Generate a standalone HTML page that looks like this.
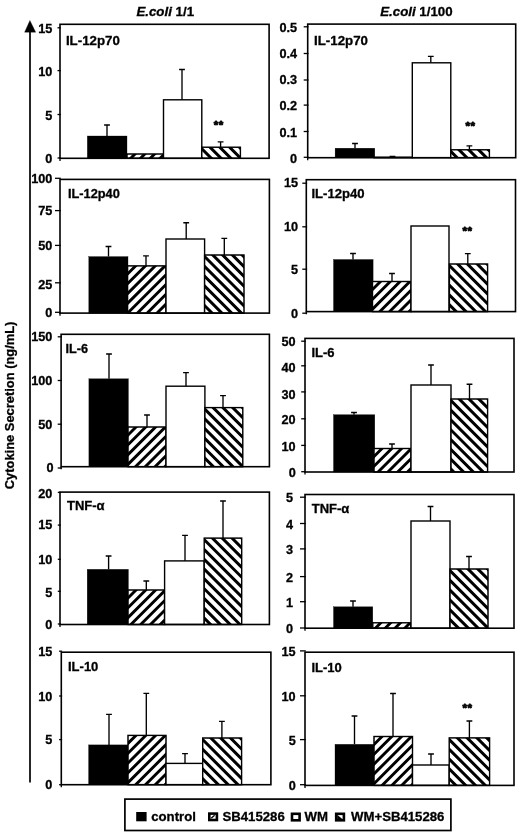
<!DOCTYPE html>
<html><head><meta charset="utf-8"><title>Cytokine secretion</title>
<style>
html,body{margin:0;padding:0;background:#fff;}
body{width:520px;height:837px;overflow:hidden;font-family:"Liberation Sans", sans-serif;}
svg{display:block;filter:grayscale(1);}
</style></head><body>
<svg width="520" height="837" viewBox="0 0 520 837">
<rect width="520" height="837" fill="#fff"/>
<g font-family='"Liberation Sans", sans-serif' font-weight="bold" fill="#000" stroke="#000" stroke-width="0.3">
<text x="136.4" y="15.7" font-size="13.3"><tspan font-style="italic">E.coli</tspan> 1/1</text>
<text x="380.2" y="15.7" font-size="13.3"><tspan font-style="italic">E.coli</tspan> 1/100</text>
<line x1="30.0" y1="30" x2="30.0" y2="782.5" stroke="#000" stroke-width="1.7"/>
<polygon points="29.9,20.4 24.6,32.2 35.7,32.2" fill="#000"/>
<text transform="translate(14.0,405.4) rotate(-90)" text-anchor="middle" font-size="12.9">Cytokine Secretion (ng/mL)</text>
<path d="M107 136V125M104.10 125H109.90" stroke="#000" stroke-width="1.35" fill="none"/>
<rect x="87.30" y="136.00" width="39.70" height="22.30" fill="#000"/>
<clipPath id="c1"><rect x="127" y="154" width="36.50" height="4.30"/></clipPath>
<rect x="127" y="154" width="36.50" height="4.30" fill="#fff"/>
<path clip-path="url(#c1)" d="M125.00 154.20L165.50 113.70M125.00 164.00L165.50 123.50M125.00 173.80L165.50 133.30M125.00 183.60L165.50 143.10M125.00 193.40L165.50 152.90" stroke="#000" stroke-width="2.9" fill="none"/>
<rect x="127" y="154" width="36.50" height="4.30" fill="none" stroke="#000" stroke-width="1.4"/>
<path d="M182 99.8V69.5M179.10 69.5H184.90" stroke="#000" stroke-width="1.35" fill="none"/>
<rect x="163.5" y="99.8" width="38.30" height="58.50" fill="#fff" stroke="#000" stroke-width="1.4"/>
<path d="M220.6 147.2V141.8M217.70 141.8H223.50" stroke="#000" stroke-width="1.35" fill="none"/>
<clipPath id="c2"><rect x="201.8" y="147.2" width="38.60" height="11.10"/></clipPath>
<rect x="201.8" y="147.2" width="38.60" height="11.10" fill="#fff"/>
<path clip-path="url(#c2)" d="M199.80 107.60L242.40 150.20M199.80 117.40L242.40 160.00M199.80 127.20L242.40 169.80M199.80 137.00L242.40 179.60M199.80 146.80L242.40 189.40M199.80 156.60L242.40 199.20" stroke="#000" stroke-width="3.0" fill="none"/>
<rect x="201.8" y="147.2" width="38.60" height="11.10" fill="none" stroke="#000" stroke-width="1.4"/>
<rect x="60.0" y="24.3" width="209.10" height="134.00" fill="none" stroke="#000" stroke-width="1.6"/>
<line x1="60.0" y1="158.3" x2="60.0" y2="160.90" stroke="#000" stroke-width="1.3"/>
<line x1="57.50" y1="27.8" x2="60.80" y2="27.8" stroke="#000" stroke-width="1.3"/>
<text x="52.4" y="32.90" text-anchor="end" font-size="12.7">15</text>
<line x1="57.50" y1="70.6" x2="60.80" y2="70.6" stroke="#000" stroke-width="1.3"/>
<text x="52.4" y="75.70" text-anchor="end" font-size="12.7">10</text>
<line x1="57.50" y1="114.5" x2="60.80" y2="114.5" stroke="#000" stroke-width="1.3"/>
<text x="52.4" y="119.50" text-anchor="end" font-size="12.7">5</text>
<line x1="57.50" y1="158.0" x2="60.80" y2="158.0" stroke="#000" stroke-width="1.3"/>
<text x="52.4" y="162.70" text-anchor="end" font-size="12.7">0</text>
<text x="65.90" y="44.6" font-size="13.3">IL-12p70</text>
<text x="218.80" y="128.60" text-anchor="middle" font-size="11.6" letter-spacing="0.6" stroke="#000" stroke-width="0.8" stroke-linejoin="round">**</text>
<path d="M108.5 256.6V246.5M105.60 246.5H111.40" stroke="#000" stroke-width="1.35" fill="none"/>
<rect x="88.80" y="256.60" width="39.20" height="56.50" fill="#000"/>
<path d="M146 265.9V255.8M143.10 255.8H148.90" stroke="#000" stroke-width="1.35" fill="none"/>
<clipPath id="c3"><rect x="127.6" y="265.9" width="38.40" height="47.20"/></clipPath>
<rect x="127.6" y="265.9" width="38.40" height="47.20" fill="#fff"/>
<path clip-path="url(#c3)" d="M125.60 266.10L168.00 223.70M125.60 275.90L168.00 233.50M125.60 285.70L168.00 243.30M125.60 295.50L168.00 253.10M125.60 305.30L168.00 262.90M125.60 315.10L168.00 272.70M125.60 324.90L168.00 282.50M125.60 334.70L168.00 292.30M125.60 344.50L168.00 302.10M125.60 354.30L168.00 311.90" stroke="#000" stroke-width="2.9" fill="none"/>
<rect x="127.6" y="265.9" width="38.40" height="47.20" fill="none" stroke="#000" stroke-width="1.4"/>
<path d="M186.2 239.0V222.7M183.30 222.7H189.10" stroke="#000" stroke-width="1.35" fill="none"/>
<rect x="166.0" y="239.0" width="38.60" height="74.10" fill="#fff" stroke="#000" stroke-width="1.4"/>
<path d="M224.3 255V238.4M221.40 238.4H227.20" stroke="#000" stroke-width="1.35" fill="none"/>
<clipPath id="c4"><rect x="204.6" y="255" width="39.40" height="58.10"/></clipPath>
<rect x="204.6" y="255" width="39.40" height="58.10" fill="#fff"/>
<path clip-path="url(#c4)" d="M202.60 215.40L246.00 258.80M202.60 225.20L246.00 268.60M202.60 235.00L246.00 278.40M202.60 244.80L246.00 288.20M202.60 254.60L246.00 298.00M202.60 264.40L246.00 307.80M202.60 274.20L246.00 317.60M202.60 284.00L246.00 327.40M202.60 293.80L246.00 337.20M202.60 303.60L246.00 347.00M202.60 313.40L246.00 356.80" stroke="#000" stroke-width="3.0" fill="none"/>
<rect x="204.6" y="255" width="39.40" height="58.10" fill="none" stroke="#000" stroke-width="1.4"/>
<rect x="60.0" y="179.4" width="209.40" height="133.70" fill="none" stroke="#000" stroke-width="1.6"/>
<line x1="60.0" y1="313.1" x2="60.0" y2="315.70" stroke="#000" stroke-width="1.3"/>
<line x1="55.00" y1="178.3" x2="60.80" y2="178.3" stroke="#000" stroke-width="1.3"/>
<text x="52.4" y="182.80" text-anchor="end" font-size="12.7">100</text>
<line x1="55.00" y1="210.6" x2="60.80" y2="210.6" stroke="#000" stroke-width="1.3"/>
<text x="52.4" y="215.10" text-anchor="end" font-size="12.7">75</text>
<line x1="55.00" y1="245.4" x2="60.80" y2="245.4" stroke="#000" stroke-width="1.3"/>
<text x="52.4" y="249.90" text-anchor="end" font-size="12.7">50</text>
<line x1="55.00" y1="282.8" x2="60.80" y2="282.8" stroke="#000" stroke-width="1.3"/>
<text x="52.4" y="288.90" text-anchor="end" font-size="12.7">25</text>
<line x1="55.00" y1="312.3" x2="60.80" y2="312.3" stroke="#000" stroke-width="1.3"/>
<text x="52.4" y="316.80" text-anchor="end" font-size="12.7">0</text>
<text x="67.90" y="198.4" font-size="12.8">IL-12p40</text>
<path d="M109 378.8V354M106.10 354H111.90" stroke="#000" stroke-width="1.35" fill="none"/>
<rect x="88.90" y="378.80" width="39.50" height="87.90" fill="#000"/>
<path d="M147 427V415M144.10 415H149.90" stroke="#000" stroke-width="1.35" fill="none"/>
<clipPath id="c5"><rect x="128" y="427" width="38.00" height="39.70"/></clipPath>
<rect x="128" y="427" width="38.00" height="39.70" fill="#fff"/>
<path clip-path="url(#c5)" d="M126.00 427.20L168.00 385.20M126.00 437.00L168.00 395.00M126.00 446.80L168.00 404.80M126.00 456.60L168.00 414.60M126.00 466.40L168.00 424.40M126.00 476.20L168.00 434.20M126.00 486.00L168.00 444.00M126.00 495.80L168.00 453.80M126.00 505.60L168.00 463.60" stroke="#000" stroke-width="2.9" fill="none"/>
<rect x="128" y="427" width="38.00" height="39.70" fill="none" stroke="#000" stroke-width="1.4"/>
<path d="M186 386.2V372.6M183.10 372.6H188.90" stroke="#000" stroke-width="1.35" fill="none"/>
<rect x="166" y="386.2" width="38.90" height="80.50" fill="#fff" stroke="#000" stroke-width="1.4"/>
<path d="M223 407.6V395.6M220.10 395.6H225.90" stroke="#000" stroke-width="1.35" fill="none"/>
<clipPath id="c6"><rect x="204.9" y="407.6" width="37.90" height="59.10"/></clipPath>
<rect x="204.9" y="407.6" width="37.90" height="59.10" fill="#fff"/>
<path clip-path="url(#c6)" d="M202.90 368.00L244.80 409.90M202.90 377.80L244.80 419.70M202.90 387.60L244.80 429.50M202.90 397.40L244.80 439.30M202.90 407.20L244.80 449.10M202.90 417.00L244.80 458.90M202.90 426.80L244.80 468.70M202.90 436.60L244.80 478.50M202.90 446.40L244.80 488.30M202.90 456.20L244.80 498.10M202.90 466.00L244.80 507.90" stroke="#000" stroke-width="3.0" fill="none"/>
<rect x="204.9" y="407.6" width="37.90" height="59.10" fill="none" stroke="#000" stroke-width="1.4"/>
<rect x="61.1" y="334.3" width="208.30" height="132.40" fill="none" stroke="#000" stroke-width="1.6"/>
<line x1="61.1" y1="466.7" x2="61.1" y2="469.30" stroke="#000" stroke-width="1.3"/>
<line x1="57.70" y1="336.8" x2="61.90" y2="336.8" stroke="#000" stroke-width="1.3"/>
<text x="52.4" y="341.30" text-anchor="end" font-size="12.7">150</text>
<line x1="57.70" y1="380.5" x2="61.90" y2="380.5" stroke="#000" stroke-width="1.3"/>
<text x="52.4" y="385.00" text-anchor="end" font-size="12.7">100</text>
<line x1="57.70" y1="424.2" x2="61.90" y2="424.2" stroke="#000" stroke-width="1.3"/>
<text x="52.4" y="428.70" text-anchor="end" font-size="12.7">50</text>
<line x1="57.70" y1="468" x2="61.90" y2="468" stroke="#000" stroke-width="1.3"/>
<text x="53.6" y="472.40" text-anchor="end" font-size="12.7">0</text>
<text x="65.40" y="353.2" font-size="12.7">IL-6</text>
<path d="M108.6 569.3V556M105.70 556H111.50" stroke="#000" stroke-width="1.35" fill="none"/>
<rect x="87.20" y="569.30" width="41.20" height="55.20" fill="#000"/>
<path d="M146.3 590V581M143.40 581H149.20" stroke="#000" stroke-width="1.35" fill="none"/>
<clipPath id="c7"><rect x="128" y="590" width="36.60" height="34.50"/></clipPath>
<rect x="128" y="590" width="36.60" height="34.50" fill="#fff"/>
<path clip-path="url(#c7)" d="M126.00 590.20L166.60 549.60M126.00 600.00L166.60 559.40M126.00 609.80L166.60 569.20M126.00 619.60L166.60 579.00M126.00 629.40L166.60 588.80M126.00 639.20L166.60 598.60M126.00 649.00L166.60 608.40M126.00 658.80L166.60 618.20" stroke="#000" stroke-width="2.9" fill="none"/>
<rect x="128" y="590" width="36.60" height="34.50" fill="none" stroke="#000" stroke-width="1.4"/>
<path d="M185 560.9V535.4M182.10 535.4H187.90" stroke="#000" stroke-width="1.35" fill="none"/>
<rect x="164.6" y="560.9" width="39.60" height="63.60" fill="#fff" stroke="#000" stroke-width="1.4"/>
<path d="M223 538.1V501M220.10 501H225.90" stroke="#000" stroke-width="1.35" fill="none"/>
<clipPath id="c8"><rect x="204.2" y="538.1" width="37.50" height="86.40"/></clipPath>
<rect x="204.2" y="538.1" width="37.50" height="86.40" fill="#fff"/>
<path clip-path="url(#c8)" d="M202.20 498.50L243.70 540.00M202.20 508.30L243.70 549.80M202.20 518.10L243.70 559.60M202.20 527.90L243.70 569.40M202.20 537.70L243.70 579.20M202.20 547.50L243.70 589.00M202.20 557.30L243.70 598.80M202.20 567.10L243.70 608.60M202.20 576.90L243.70 618.40M202.20 586.70L243.70 628.20M202.20 596.50L243.70 638.00M202.20 606.30L243.70 647.80M202.20 616.10L243.70 657.60M202.20 625.90L243.70 667.40" stroke="#000" stroke-width="3.0" fill="none"/>
<rect x="204.2" y="538.1" width="37.50" height="86.40" fill="none" stroke="#000" stroke-width="1.4"/>
<rect x="60.0" y="492.1" width="209.40" height="132.40" fill="none" stroke="#000" stroke-width="1.6"/>
<line x1="60.0" y1="624.5" x2="60.0" y2="627.10" stroke="#000" stroke-width="1.3"/>
<line x1="57.80" y1="492.4" x2="60.80" y2="492.4" stroke="#000" stroke-width="1.3"/>
<text x="52.4" y="497.50" text-anchor="end" font-size="12.7">20</text>
<line x1="57.80" y1="525.1" x2="60.80" y2="525.1" stroke="#000" stroke-width="1.3"/>
<text x="52.4" y="529.10" text-anchor="end" font-size="12.7">15</text>
<line x1="57.80" y1="559.3" x2="60.80" y2="559.3" stroke="#000" stroke-width="1.3"/>
<text x="52.4" y="563.50" text-anchor="end" font-size="12.7">10</text>
<line x1="57.80" y1="591.3" x2="60.80" y2="591.3" stroke="#000" stroke-width="1.3"/>
<text x="52.4" y="597.10" text-anchor="end" font-size="12.7">5</text>
<line x1="57.80" y1="624.0" x2="60.80" y2="624.0" stroke="#000" stroke-width="1.3"/>
<text x="52.4" y="628.70" text-anchor="end" font-size="12.7">0</text>
<text x="67.00" y="509.7" font-size="13.0">TNF-α</text>
<path d="M109 744.9V714.4M106.10 714.4H111.90" stroke="#000" stroke-width="1.35" fill="none"/>
<rect x="88.60" y="744.90" width="39.80" height="39.80" fill="#000"/>
<path d="M146.3 735.4V693.3M143.40 693.3H149.20" stroke="#000" stroke-width="1.35" fill="none"/>
<clipPath id="c9"><rect x="128" y="735.4" width="38.00" height="49.30"/></clipPath>
<rect x="128" y="735.4" width="38.00" height="49.30" fill="#fff"/>
<path clip-path="url(#c9)" d="M126.00 735.60L168.00 693.60M126.00 745.40L168.00 703.40M126.00 755.20L168.00 713.20M126.00 765.00L168.00 723.00M126.00 774.80L168.00 732.80M126.00 784.60L168.00 742.60M126.00 794.40L168.00 752.40M126.00 804.20L168.00 762.20M126.00 814.00L168.00 772.00M126.00 823.80L168.00 781.80" stroke="#000" stroke-width="2.9" fill="none"/>
<rect x="128" y="735.4" width="38.00" height="49.30" fill="none" stroke="#000" stroke-width="1.4"/>
<path d="M185 763.4V753.6M182.10 753.6H187.90" stroke="#000" stroke-width="1.35" fill="none"/>
<rect x="166" y="763.4" width="36.70" height="21.30" fill="#fff" stroke="#000" stroke-width="1.4"/>
<path d="M221.9 738V721.3M219.00 721.3H224.80" stroke="#000" stroke-width="1.35" fill="none"/>
<clipPath id="c10"><rect x="202.7" y="738" width="38.90" height="46.70"/></clipPath>
<rect x="202.7" y="738" width="38.90" height="46.70" fill="#fff"/>
<path clip-path="url(#c10)" d="M200.70 698.40L243.60 741.30M200.70 708.20L243.60 751.10M200.70 718.00L243.60 760.90M200.70 727.80L243.60 770.70M200.70 737.60L243.60 780.50M200.70 747.40L243.60 790.30M200.70 757.20L243.60 800.10M200.70 767.00L243.60 809.90M200.70 776.80L243.60 819.70M200.70 786.60L243.60 829.50" stroke="#000" stroke-width="3.0" fill="none"/>
<rect x="202.7" y="738" width="38.90" height="46.70" fill="none" stroke="#000" stroke-width="1.4"/>
<rect x="61.3" y="652.2" width="209.60" height="132.50" fill="none" stroke="#000" stroke-width="1.6"/>
<line x1="61.3" y1="784.7" x2="61.3" y2="787.30" stroke="#000" stroke-width="1.3"/>
<line x1="59.10" y1="651.2" x2="62.10" y2="651.2" stroke="#000" stroke-width="1.3"/>
<text x="52.4" y="655.70" text-anchor="end" font-size="12.7">15</text>
<line x1="59.10" y1="696" x2="62.10" y2="696" stroke="#000" stroke-width="1.3"/>
<text x="52.4" y="700.50" text-anchor="end" font-size="12.7">10</text>
<line x1="59.10" y1="739.6" x2="62.10" y2="739.6" stroke="#000" stroke-width="1.3"/>
<text x="52.4" y="744.10" text-anchor="end" font-size="12.7">5</text>
<line x1="59.10" y1="784.7" x2="62.10" y2="784.7" stroke="#000" stroke-width="1.3"/>
<text x="52.4" y="789.20" text-anchor="end" font-size="12.7">0</text>
<text x="68.00" y="671.3" font-size="13.0">IL-10</text>
<path d="M355 148.2V143.5M352.10 143.5H357.90" stroke="#000" stroke-width="1.35" fill="none"/>
<rect x="335.10" y="148.20" width="39.70" height="9.50" fill="#000"/>
<path d="M392.5 157.2V156.5M389.60 156.5H395.40" stroke="#000" stroke-width="1.35" fill="none"/>
<clipPath id="c11"><rect x="374" y="157.2" width="38.50" height="0.50"/></clipPath>
<rect x="374" y="157.2" width="38.50" height="0.50" fill="#fff"/>
<path clip-path="url(#c11)" d="M372.00 157.40L414.50 114.90M372.00 167.20L414.50 124.70M372.00 177.00L414.50 134.50M372.00 186.80L414.50 144.30M372.00 196.60L414.50 154.10" stroke="#000" stroke-width="2.9" fill="none"/>
<rect x="374" y="157.2" width="38.50" height="0.50" fill="none" stroke="#000" stroke-width="1.4"/>
<path d="M430.8 62.8V56.3M427.90 56.3H433.70" stroke="#000" stroke-width="1.35" fill="none"/>
<rect x="412.3" y="62.8" width="38.50" height="94.90" fill="#fff" stroke="#000" stroke-width="1.4"/>
<path d="M469.4 149.8V145.8M466.50 145.8H472.30" stroke="#000" stroke-width="1.35" fill="none"/>
<clipPath id="c12"><rect x="450.8" y="149.8" width="38.60" height="7.90"/></clipPath>
<rect x="450.8" y="149.8" width="38.60" height="7.90" fill="#fff"/>
<path clip-path="url(#c12)" d="M448.80 110.20L491.40 152.80M448.80 120.00L491.40 162.60M448.80 129.80L491.40 172.40M448.80 139.60L491.40 182.20M448.80 149.40L491.40 192.00M448.80 159.20L491.40 201.80" stroke="#000" stroke-width="3.0" fill="none"/>
<rect x="450.8" y="149.8" width="38.60" height="7.90" fill="none" stroke="#000" stroke-width="1.4"/>
<rect x="307.7" y="24.1" width="208.00" height="133.60" fill="none" stroke="#000" stroke-width="1.6"/>
<line x1="307.7" y1="157.7" x2="307.7" y2="160.30" stroke="#000" stroke-width="1.3"/>
<line x1="303.70" y1="26.8" x2="308.50" y2="26.8" stroke="#000" stroke-width="1.3"/>
<text x="297.1" y="31.60" text-anchor="end" font-size="12.7">0.5</text>
<line x1="303.70" y1="53.5" x2="308.50" y2="53.5" stroke="#000" stroke-width="1.3"/>
<text x="297.1" y="58.10" text-anchor="end" font-size="12.7">0.4</text>
<line x1="303.70" y1="80" x2="308.50" y2="80" stroke="#000" stroke-width="1.3"/>
<text x="297.1" y="84.30" text-anchor="end" font-size="12.7">0.3</text>
<line x1="303.70" y1="105.1" x2="308.50" y2="105.1" stroke="#000" stroke-width="1.3"/>
<text x="297.1" y="110.00" text-anchor="end" font-size="12.7">0.2</text>
<line x1="303.70" y1="131.5" x2="308.50" y2="131.5" stroke="#000" stroke-width="1.3"/>
<text x="297.1" y="136.50" text-anchor="end" font-size="12.7">0.1</text>
<line x1="303.70" y1="157.3" x2="308.50" y2="157.3" stroke="#000" stroke-width="1.3"/>
<text x="297.1" y="162.90" text-anchor="end" font-size="12.7">0</text>
<text x="314.00" y="44.6" font-size="13.3">IL-12p70</text>
<text x="470.60" y="130.30" text-anchor="middle" font-size="11.6" letter-spacing="0.6" stroke="#000" stroke-width="0.8" stroke-linejoin="round">**</text>
<path d="M353 259.5V253.5M350.10 253.5H355.90" stroke="#000" stroke-width="1.35" fill="none"/>
<rect x="333.50" y="259.50" width="39.60" height="52.10" fill="#000"/>
<path d="M392 281.5V273.5M389.10 273.5H394.90" stroke="#000" stroke-width="1.35" fill="none"/>
<clipPath id="c13"><rect x="372.5" y="281.5" width="38.50" height="30.10"/></clipPath>
<rect x="372.5" y="281.5" width="38.50" height="30.10" fill="#fff"/>
<path clip-path="url(#c13)" d="M370.50 281.70L413.00 239.20M370.50 291.50L413.00 249.00M370.50 301.30L413.00 258.80M370.50 311.10L413.00 268.60M370.50 320.90L413.00 278.40M370.50 330.70L413.00 288.20M370.50 340.50L413.00 298.00M370.50 350.30L413.00 307.80" stroke="#000" stroke-width="2.9" fill="none"/>
<rect x="372.5" y="281.5" width="38.50" height="30.10" fill="none" stroke="#000" stroke-width="1.4"/>
<rect x="411" y="226" width="38.00" height="85.60" fill="#fff" stroke="#000" stroke-width="1.4"/>
<path d="M467.8 264V253.6M464.90 253.6H470.70" stroke="#000" stroke-width="1.35" fill="none"/>
<clipPath id="c14"><rect x="449.4" y="264" width="38.20" height="47.60"/></clipPath>
<rect x="449.4" y="264" width="38.20" height="47.60" fill="#fff"/>
<path clip-path="url(#c14)" d="M447.40 224.40L489.60 266.60M447.40 234.20L489.60 276.40M447.40 244.00L489.60 286.20M447.40 253.80L489.60 296.00M447.40 263.60L489.60 305.80M447.40 273.40L489.60 315.60M447.40 283.20L489.60 325.40M447.40 293.00L489.60 335.20M447.40 302.80L489.60 345.00M447.40 312.60L489.60 354.80" stroke="#000" stroke-width="3.0" fill="none"/>
<rect x="449.4" y="264" width="38.20" height="47.60" fill="none" stroke="#000" stroke-width="1.4"/>
<rect x="306.3" y="179.7" width="209.20" height="131.90" fill="none" stroke="#000" stroke-width="1.6"/>
<line x1="306.3" y1="311.6" x2="306.3" y2="314.20" stroke="#000" stroke-width="1.3"/>
<line x1="302.30" y1="183.2" x2="307.10" y2="183.2" stroke="#000" stroke-width="1.3"/>
<text x="298.1" y="187.40" text-anchor="end" font-size="12.7">15</text>
<line x1="302.30" y1="226.8" x2="307.10" y2="226.8" stroke="#000" stroke-width="1.3"/>
<text x="298.1" y="230.80" text-anchor="end" font-size="12.7">10</text>
<line x1="302.30" y1="269.2" x2="307.10" y2="269.2" stroke="#000" stroke-width="1.3"/>
<text x="298.1" y="274.40" text-anchor="end" font-size="12.7">5</text>
<line x1="302.30" y1="313.2" x2="307.10" y2="313.2" stroke="#000" stroke-width="1.3"/>
<text x="298.1" y="317.70" text-anchor="end" font-size="12.7">0</text>
<text x="311.40" y="198.2" font-size="13.1">IL-12p40</text>
<text x="467.50" y="234.80" text-anchor="middle" font-size="11.6" letter-spacing="0.6" stroke="#000" stroke-width="0.8" stroke-linejoin="round">**</text>
<path d="M354 414.7V412.5M351.10 412.5H356.90" stroke="#000" stroke-width="1.35" fill="none"/>
<rect x="333.50" y="414.70" width="41.30" height="57.30" fill="#000"/>
<path d="M392 448.5V444M389.10 444H394.90" stroke="#000" stroke-width="1.35" fill="none"/>
<clipPath id="c15"><rect x="374" y="448.5" width="37.00" height="23.50"/></clipPath>
<rect x="374" y="448.5" width="37.00" height="23.50" fill="#fff"/>
<path clip-path="url(#c15)" d="M372.00 448.70L413.00 407.70M372.00 458.50L413.00 417.50M372.00 468.30L413.00 427.30M372.00 478.10L413.00 437.10M372.00 487.90L413.00 446.90M372.00 497.70L413.00 456.70M372.00 507.50L413.00 466.50" stroke="#000" stroke-width="2.9" fill="none"/>
<rect x="374" y="448.5" width="37.00" height="23.50" fill="none" stroke="#000" stroke-width="1.4"/>
<path d="M431 385V365M428.10 365H433.90" stroke="#000" stroke-width="1.35" fill="none"/>
<rect x="411" y="385" width="40.00" height="87.00" fill="#fff" stroke="#000" stroke-width="1.4"/>
<path d="M469.5 399V384.2M466.60 384.2H472.40" stroke="#000" stroke-width="1.35" fill="none"/>
<clipPath id="c16"><rect x="451" y="399" width="36.60" height="73.00"/></clipPath>
<rect x="451" y="399" width="36.60" height="73.00" fill="#fff"/>
<path clip-path="url(#c16)" d="M449.00 359.40L489.60 400.00M449.00 369.20L489.60 409.80M449.00 379.00L489.60 419.60M449.00 388.80L489.60 429.40M449.00 398.60L489.60 439.20M449.00 408.40L489.60 449.00M449.00 418.20L489.60 458.80M449.00 428.00L489.60 468.60M449.00 437.80L489.60 478.40M449.00 447.60L489.60 488.20M449.00 457.40L489.60 498.00M449.00 467.20L489.60 507.80" stroke="#000" stroke-width="3.0" fill="none"/>
<rect x="451" y="399" width="36.60" height="73.00" fill="none" stroke="#000" stroke-width="1.4"/>
<rect x="305.0" y="338.4" width="209.00" height="133.60" fill="none" stroke="#000" stroke-width="1.6"/>
<line x1="305.0" y1="472.0" x2="305.0" y2="474.60" stroke="#000" stroke-width="1.3"/>
<line x1="301.20" y1="341.2" x2="305.80" y2="341.2" stroke="#000" stroke-width="1.3"/>
<text x="295.7" y="345.90" text-anchor="end" font-size="12.7">50</text>
<line x1="301.20" y1="365.8" x2="305.80" y2="365.8" stroke="#000" stroke-width="1.3"/>
<text x="295.7" y="371.50" text-anchor="end" font-size="12.7">40</text>
<line x1="301.20" y1="391.9" x2="305.80" y2="391.9" stroke="#000" stroke-width="1.3"/>
<text x="295.7" y="398.80" text-anchor="end" font-size="12.7">30</text>
<line x1="301.20" y1="418.8" x2="305.80" y2="418.8" stroke="#000" stroke-width="1.3"/>
<text x="295.7" y="424.40" text-anchor="end" font-size="12.7">20</text>
<line x1="301.20" y1="445.4" x2="305.80" y2="445.4" stroke="#000" stroke-width="1.3"/>
<text x="295.7" y="450.90" text-anchor="end" font-size="12.7">10</text>
<line x1="301.20" y1="471.7" x2="305.80" y2="471.7" stroke="#000" stroke-width="1.3"/>
<text x="295.7" y="476.80" text-anchor="end" font-size="12.7">0</text>
<text x="311.40" y="357.1" font-size="13.0">IL-6</text>
<path d="M353 606.8V601M350.10 601H355.90" stroke="#000" stroke-width="1.35" fill="none"/>
<rect x="333.50" y="606.80" width="39.30" height="21.40" fill="#000"/>
<clipPath id="c17"><rect x="372.8" y="622.8" width="38.00" height="5.40"/></clipPath>
<rect x="372.8" y="622.8" width="38.00" height="5.40" fill="#fff"/>
<path clip-path="url(#c17)" d="M370.80 623.00L412.80 581.00M370.80 632.80L412.80 590.80M370.80 642.60L412.80 600.60M370.80 652.40L412.80 610.40M370.80 662.20L412.80 620.20M370.80 672.00L412.80 630.00" stroke="#000" stroke-width="2.9" fill="none"/>
<rect x="372.8" y="622.8" width="38.00" height="5.40" fill="none" stroke="#000" stroke-width="1.4"/>
<path d="M430.5 521V506.5M427.60 506.5H433.40" stroke="#000" stroke-width="1.35" fill="none"/>
<rect x="411" y="521" width="39.00" height="107.20" fill="#fff" stroke="#000" stroke-width="1.4"/>
<path d="M469 569V556.5M466.10 556.5H471.90" stroke="#000" stroke-width="1.35" fill="none"/>
<clipPath id="c18"><rect x="450" y="569" width="38.00" height="59.20"/></clipPath>
<rect x="450" y="569" width="38.00" height="59.20" fill="#fff"/>
<path clip-path="url(#c18)" d="M448.00 529.40L490.00 571.40M448.00 539.20L490.00 581.20M448.00 549.00L490.00 591.00M448.00 558.80L490.00 600.80M448.00 568.60L490.00 610.60M448.00 578.40L490.00 620.40M448.00 588.20L490.00 630.20M448.00 598.00L490.00 640.00M448.00 607.80L490.00 649.80M448.00 617.60L490.00 659.60M448.00 627.40L490.00 669.40" stroke="#000" stroke-width="3.0" fill="none"/>
<rect x="450" y="569" width="38.00" height="59.20" fill="none" stroke="#000" stroke-width="1.4"/>
<rect x="305.0" y="494.5" width="209.00" height="133.70" fill="none" stroke="#000" stroke-width="1.6"/>
<line x1="305.0" y1="628.2" x2="305.0" y2="630.80" stroke="#000" stroke-width="1.3"/>
<line x1="300.00" y1="497.2" x2="305.80" y2="497.2" stroke="#000" stroke-width="1.3"/>
<text x="293.1" y="502.40" text-anchor="end" font-size="12.7">5</text>
<line x1="300.00" y1="523.5" x2="305.80" y2="523.5" stroke="#000" stroke-width="1.3"/>
<text x="293.1" y="528.60" text-anchor="end" font-size="12.7">4</text>
<line x1="300.00" y1="548.9" x2="305.80" y2="548.9" stroke="#000" stroke-width="1.3"/>
<text x="293.1" y="553.80" text-anchor="end" font-size="12.7">3</text>
<line x1="300.00" y1="576.6" x2="305.80" y2="576.6" stroke="#000" stroke-width="1.3"/>
<text x="293.1" y="581.70" text-anchor="end" font-size="12.7">2</text>
<line x1="300.00" y1="601.7" x2="305.80" y2="601.7" stroke="#000" stroke-width="1.3"/>
<text x="293.1" y="606.90" text-anchor="end" font-size="12.7">1</text>
<line x1="300.00" y1="628.0" x2="305.80" y2="628.0" stroke="#000" stroke-width="1.3"/>
<text x="293.1" y="633.10" text-anchor="end" font-size="12.7">0</text>
<text x="311.70" y="512.7" font-size="13.0">TNF-α</text>
<path d="M354.5 744.3V716M351.60 716H357.40" stroke="#000" stroke-width="1.35" fill="none"/>
<rect x="335.00" y="744.30" width="39.80" height="41.10" fill="#000"/>
<path d="M393 736.5V693.5M390.10 693.5H395.90" stroke="#000" stroke-width="1.35" fill="none"/>
<clipPath id="c19"><rect x="374" y="736.5" width="38.50" height="48.90"/></clipPath>
<rect x="374" y="736.5" width="38.50" height="48.90" fill="#fff"/>
<path clip-path="url(#c19)" d="M372.00 736.70L414.50 694.20M372.00 746.50L414.50 704.00M372.00 756.30L414.50 713.80M372.00 766.10L414.50 723.60M372.00 775.90L414.50 733.40M372.00 785.70L414.50 743.20M372.00 795.50L414.50 753.00M372.00 805.30L414.50 762.80M372.00 815.10L414.50 772.60M372.00 824.90L414.50 782.40" stroke="#000" stroke-width="2.9" fill="none"/>
<rect x="374" y="736.5" width="38.50" height="48.90" fill="none" stroke="#000" stroke-width="1.4"/>
<path d="M431 765V754M428.10 754H433.90" stroke="#000" stroke-width="1.35" fill="none"/>
<rect x="412.5" y="765" width="36.70" height="20.40" fill="#fff" stroke="#000" stroke-width="1.4"/>
<path d="M469.4 737.9V721M466.50 721H472.30" stroke="#000" stroke-width="1.35" fill="none"/>
<clipPath id="c20"><rect x="449.2" y="737.9" width="40.40" height="47.50"/></clipPath>
<rect x="449.2" y="737.9" width="40.40" height="47.50" fill="#fff"/>
<path clip-path="url(#c20)" d="M447.20 698.30L491.60 742.70M447.20 708.10L491.60 752.50M447.20 717.90L491.60 762.30M447.20 727.70L491.60 772.10M447.20 737.50L491.60 781.90M447.20 747.30L491.60 791.70M447.20 757.10L491.60 801.50M447.20 766.90L491.60 811.30M447.20 776.70L491.60 821.10M447.20 786.50L491.60 830.90" stroke="#000" stroke-width="3.0" fill="none"/>
<rect x="449.2" y="737.9" width="40.40" height="47.50" fill="none" stroke="#000" stroke-width="1.4"/>
<rect x="305.0" y="652.2" width="209.00" height="133.20" fill="none" stroke="#000" stroke-width="1.6"/>
<line x1="305.0" y1="785.4" x2="305.0" y2="788.00" stroke="#000" stroke-width="1.3"/>
<line x1="300.00" y1="650.9" x2="305.80" y2="650.9" stroke="#000" stroke-width="1.3"/>
<text x="295.7" y="655.70" text-anchor="end" font-size="12.7">15</text>
<line x1="300.00" y1="695.8" x2="305.80" y2="695.8" stroke="#000" stroke-width="1.3"/>
<text x="295.7" y="700.70" text-anchor="end" font-size="12.7">10</text>
<line x1="300.00" y1="739.6" x2="305.80" y2="739.6" stroke="#000" stroke-width="1.3"/>
<text x="295.7" y="744.70" text-anchor="end" font-size="12.7">5</text>
<line x1="300.00" y1="784.7" x2="305.80" y2="784.7" stroke="#000" stroke-width="1.3"/>
<text x="295.7" y="789.50" text-anchor="end" font-size="12.7">0</text>
<text x="311.40" y="671.5" font-size="13.0">IL-10</text>
<text x="467.60" y="711.50" text-anchor="middle" font-size="11.6" letter-spacing="0.6" stroke="#000" stroke-width="0.8" stroke-linejoin="round">**</text>
<rect x="124.9" y="799.1" width="326.0" height="31.4" fill="#fff" stroke="#000" stroke-width="1.7"/>
<rect x="136.2" y="812.0" width="10.4" height="9.3" fill="#000" stroke="none"/>
<text x="151.2" y="820.6" font-size="13.2">control</text>
<rect x="209.3" y="813.6" width="7.6" height="6.4" fill="#fff" stroke="#000" stroke-width="2.6"/>
<path d="M211.2 818.3L214.6 815.3" stroke="#000" stroke-width="1.3" fill="none"/>
<text x="222.4" y="820.6" font-size="13.2">SB415286</text>
<rect x="292.0" y="813.8" width="7.6" height="6.5" fill="#fff" stroke="#000" stroke-width="2.6"/>
<text x="304.5" y="820.6" font-size="13.2">WM</text>
<rect x="336.2" y="813.8" width="7.7" height="6.5" fill="#fff" stroke="#000" stroke-width="2.6"/>
<path d="M337.2 814.8L342.9 819.6L337.2 819.6Z" fill="#000" stroke="none"/>
<text x="351.0" y="820.6" font-size="13.2">WM+SB415286</text>
</g>
</svg>
</body></html>
